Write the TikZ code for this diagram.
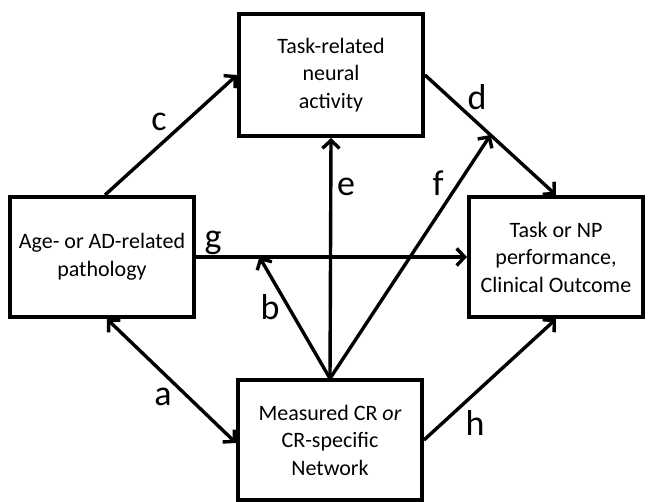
\documentclass[tikz,border=0pt]{standalone}
\usepackage{fontspec}
\setmainfont{Carlito}
\usetikzlibrary{arrows.meta,calc}
\begin{document}
\begin{tikzpicture}[x=1pt,y=-1pt,
  box/.style={draw,line width=4pt,align=center,inner sep=0pt,
    font=\fontsize{22}{27.5}\selectfont},
  tip/.style={Straight Barb[length=8pt,width=17pt,line width=3.4pt]},
  conn/.style={line width=3.4pt,-{Straight Barb[length=8pt,width=17pt,line width=3.4pt]}},
  lbl/.style={inner sep=0pt,font=\fontsize{36}{36}\selectfont}]
\useasboundingbox (0,0) rectangle (648,502);
\node[box,minimum width=184pt,minimum height=122pt] (T) at (331,75) {Task-related\\neural\\activity};
\node[box,minimum width=184pt,minimum height=120pt] (L) at (102,257) {Age- or AD-related\\pathology};
\node[box,minimum width=174pt,minimum height=120pt] (R) at (556,257) {Task or NP\\performance,\\Clinical Outcome};
\node[box,minimum width=184pt,minimum height=119pt] (B) at (330,440) {Measured CR \textit{or}\\CR-specific\\Network};
\coordinate (dm) at ($(T.east)!0.5!(R.north)$);
\coordinate (gb) at ($(L.east)!0.234!(R.west)$);
\draw[conn] ([xshift=3pt]L.north) -- (T.west);
\draw[conn] (T.east) -- (R.north);
\draw[conn] (B.north) -- (T.south);
\draw[conn] (B.north) -- (dm);
\draw[conn] (L.east) -- (R.west);
\draw[conn] (B.north) -- (gb);
\draw[line width=3.4pt,{Straight Barb[length=8pt,width=17pt,line width=3.4pt]}-{Straight Barb[length=8pt,width=17pt,line width=3.4pt]}] ([xshift=5pt]L.south) -- ([yshift=-3pt]B.west);
\draw[conn] (B.east) -- (R.south);
\node[lbl] (lc) at (159,122) {c};
\node[lbl] (ld) at (477,97) {d};
\node[lbl] (le) at (346,187) {e};
\node[lbl] (lf) at (438,183) {f};
\node[lbl] (lg) at (213,243) {g};
\node[lbl] (lb) at (270,307) {b};
\node[lbl] (la) at (163,397) {a};
\node[lbl] (lh) at (475,423) {h};
\end{tikzpicture}
\end{document}
